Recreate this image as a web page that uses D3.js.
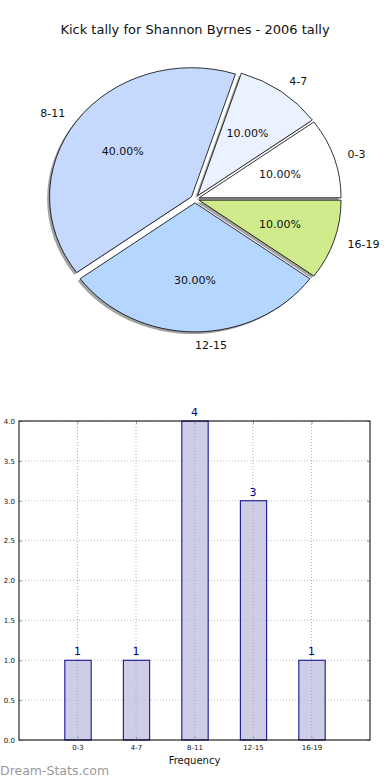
<!DOCTYPE html>
<html><head><meta charset="utf-8">
<script src="https://cdn.jsdelivr.net/npm/d3@7"></script>
<style>
body{margin:0;background:#fff;}
text{font-family:"DejaVu Sans",sans-serif;}
</style></head>
<body><svg id="c" width="390" height="780"></svg>
<script>
const categories = ["0-3","4-7","8-11","12-15","16-19"];
const counts = [1,1,4,3,1];
const pieColors = ["#ffffff","#eaf1ff","#c5d9ff","#b5d6ff","#cfeb8b"];
const yTicks = [0,0.5,1,1.5,2,2.5,3,3.5,4];
const title = "Kick tally for Shannon Byrnes - 2006 tally";

const svg = d3.select("#c");
svg.append("rect").attr("width",390).attr("height",780).attr("fill","#fff");

svg.append("text").attr("x",195).attr("y",34).attr("text-anchor","middle")
  .attr("font-size",13).attr("fill","#111").text(title);

// ---- Pie ----
const cx = 195, cy = 199, rx = 142, ry = 129, explode = 0.03;
const total = d3.sum(counts);
const pie = d3.pie().sort(null).startAngle(Math.PI/2).endAngle(Math.PI/2 - 2*Math.PI);
const arcs = pie(counts);
const arc = d3.arc().innerRadius(0).outerRadius(1);
const sx = d3.scaleLinear().domain([-1,1]).range([cx-rx,cx+rx]);
const sy = d3.scaleLinear().domain([-1,1]).range([cy-ry,cy+ry]);
function mid(a){ const m=(a.startAngle+a.endAngle)/2; return [Math.sin(m), -Math.cos(m)]; }

const g = svg.append("g");
arcs.forEach((a,i)=>{
  const [ux,uy]=mid(a);
  const ox = explode*ux - 0.017, oy = explode*uy + 0.017;
  g.append("path").attr("d",arc(a))
    .attr("transform",`translate(${sx(ox)},${sy(oy)}) scale(${rx},${ry})`)
    .attr("fill","#555").attr("fill-opacity",0.55);
});
arcs.forEach((a,i)=>{
  const [ux,uy]=mid(a);
  const ox = explode*ux, oy = explode*uy;
  g.append("path").attr("d",arc(a))
    .attr("transform",`translate(${sx(ox)},${sy(oy)}) scale(${rx},${ry})`)
    .attr("fill",pieColors[i]).attr("stroke","#000").attr("stroke-width",0.8)
    .attr("vector-effect","non-scaling-stroke");
});
arcs.forEach((a,i)=>{
  const [ux,uy]=mid(a);
  const ox = explode*ux, oy = explode*uy;
  const lx = sx(ox + 1.1*ux), ly = sy(oy + 1.1*uy);
  g.append("text").attr("x",lx).attr("y",ly).attr("dy","0.35em")
    .attr("text-anchor", ux >= -1e-9 ? "start" : "end")
    .attr("font-size",11).attr("fill","#111").text(categories[i]);
  const px = sx(ox + 0.6*ux), py = sy(oy + 0.6*uy);
  g.append("text").attr("x",px).attr("y",py).attr("dy","0.35em")
    .attr("text-anchor","middle").attr("font-size",11).attr("fill","#111")
    .text((counts[i]/total*100).toFixed(2)+"%");
});

// ---- Bar chart ----
const L=19, R=370, T=421, B=740;
const x = d3.scaleLinear().domain([0,categories.length+1]).range([L,R]);
const y = d3.scaleLinear().domain([0,4]).range([B,T]);
const bw = 0.45;
const bg = svg.append("g");

bg.selectAll(".hg").data(yTicks).enter().append("line")
  .attr("x1",L).attr("x2",R).attr("y1",d=>y(d)).attr("y2",d=>y(d))
  .attr("stroke","#c4c4c4").attr("stroke-width",1).attr("stroke-dasharray","1,2");

bg.selectAll(".bar").data(counts).enter().append("rect")
  .attr("x",(d,i)=>x(i+1-bw/2)+0.5).attr("width",(d,i)=>x(bw)-x(0))
  .attr("y",d=>y(d)).attr("height",d=>y(0)-y(d))
  .attr("fill","#bcbcdc").attr("fill-opacity",0.75).attr("stroke","#00008b").attr("stroke-width",1);
bg.selectAll(".vg").data(categories).enter().append("line")
  .attr("x1",(d,i)=>x(i+1)).attr("x2",(d,i)=>x(i+1)).attr("y1",T).attr("y2",B)
  .attr("stroke","#b0b0bc").attr("stroke-width",1).attr("stroke-dasharray","1,2");

bg.selectAll(".val").data(counts).enter().append("text")
  .attr("x",(d,i)=>x(i+1)).attr("y",d=>y(d)-5).attr("text-anchor","middle")
  .attr("font-size",11).attr("fill","#00008b").text(d=>d);

const yAxis = d3.axisLeft(y).tickValues(yTicks).tickFormat(d3.format(".1f")).tickSize(-3).tickPadding(4);
const ya = bg.append("g").attr("transform",`translate(${L},0)`).call(yAxis);
const yAxisR = d3.axisRight(y).tickValues(yTicks).tickFormat("").tickSize(-3);
const yr = bg.append("g").attr("transform",`translate(${R},0)`).call(yAxisR);
const xAxis = d3.axisBottom(x).tickValues(d3.range(1,categories.length+1))
  .tickFormat(d=>categories[d-1]).tickSize(-3).tickPadding(5);
const xa = bg.append("g").attr("transform",`translate(0,${B})`).call(xAxis);
const xAxisT = d3.axisTop(x).tickValues(d3.range(1,categories.length+1)).tickFormat("").tickSize(-3);
const xt = bg.append("g").attr("transform",`translate(0,${T})`).call(xAxisT);
[ya,yr,xa,xt].forEach(a=>{
  a.select(".domain").remove();
  a.selectAll(".tick line").attr("stroke","#999");
  a.selectAll("text").attr("font-size",7).attr("fill","#111").attr("font-family","'DejaVu Sans',sans-serif");
});
bg.append("rect").attr("x",L).attr("y",T).attr("width",R-L).attr("height",B-T)
  .attr("fill","none").attr("stroke","#000").attr("stroke-width",1);

svg.append("text").attr("x",(L+R)/2).attr("y",764).attr("text-anchor","middle")
  .attr("font-size",10).attr("fill","#111").text("Frequency");
svg.append("text").attr("x",0).attr("y",775).attr("font-size",12.5)
  .attr("fill","#9a9a9a").attr("font-family","'DejaVu Sans',sans-serif").text("Dream-Stats.com");
</script></body></html>
